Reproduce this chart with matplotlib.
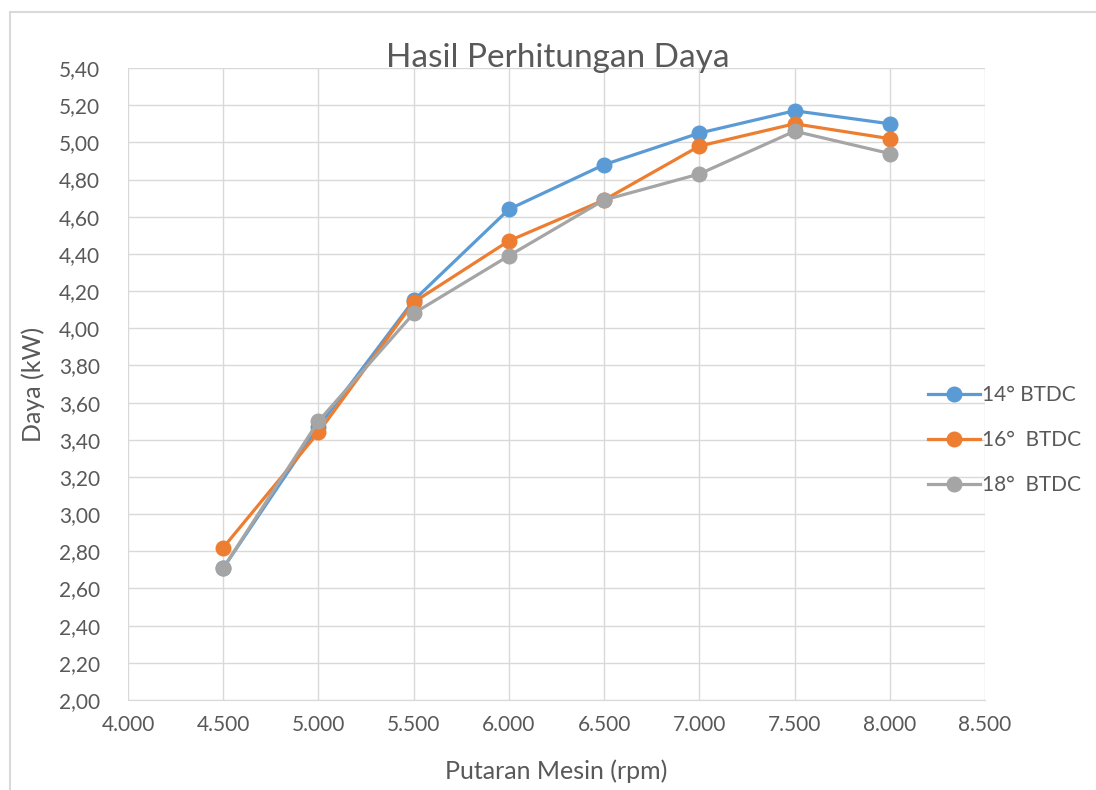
import matplotlib
matplotlib.use("Agg")
import matplotlib.pyplot as plt
from matplotlib.patches import Rectangle

# data
rpm = [4500, 5000, 5500, 6000, 6500, 7000, 7500, 8000]
daya_14 = [2.71, 3.47, 4.15, 4.64, 4.88, 5.05, 5.17, 5.10]
daya_16 = [2.82, 3.44, 4.14, 4.47, 4.69, 4.98, 5.10, 5.02]
daya_18 = [2.71, 3.50, 4.08, 4.39, 4.69, 4.83, 5.06, 4.94]
labels = ['14° BTDC', '16°  BTDC', '18°  BTDC']
colors = ['#5B9BD5', '#ED7D31', '#A5A5A5']

xticks = list(range(4000, 8501, 500))
yticks = [2.0 + 0.2 * i for i in range(18)]

plt.rcParams['font.family'] = ['Lato', 'DejaVu Sans']
txt = '#595959'

fig = plt.figure(figsize=(10.96, 7.90), dpi=100)
ax = fig.add_axes([0.1168, 0.1139, 0.7819, 0.8])

for ys, lab, c in zip([daya_14, daya_16, daya_18], labels, colors):
    ax.plot(rpm, ys, color=c, lw=2.3, marker='o', ms=10.5, label=lab)

ax.set_xlim(4000, 8500)
ax.set_ylim(2.0, 5.4)
ax.set_xticks(xticks)
ax.set_xticklabels([f'{v:,}'.replace(',', '.') for v in xticks])
ax.set_yticks(yticks)
ax.set_yticklabels([f'{v:.2f}'.replace('.', ',') for v in yticks])
ax.grid(True, color='#d9d9d9', lw=1)
ax.set_axisbelow(True)
for s in ax.spines.values():
    s.set_visible(False)
ax.spines['bottom'].set_visible(True)
ax.spines['bottom'].set_color('#d9d9d9')
ax.tick_params(length=0, labelsize=15, colors=txt)
ax.tick_params(axis='y', pad=20)
ax.tick_params(axis='x', pad=11)

fig.text(0.5092, 0.9266, 'Hasil Perhitungan Daya', fontsize=24, color=txt,
         ha='center', va='center')
ax.set_xlabel('Putaran Mesin (rpm)', fontsize=18, color=txt)
ax.xaxis.set_label_coords(0.5, -0.112)
ax.xaxis.label.set_va('center')
ax.set_ylabel('Daya (kW)', fontsize=18, color=txt)
ax.yaxis.set_label_coords(-0.111, 0.5)
ax.yaxis.label.set_va('center')

leg = ax.legend(loc='center left', bbox_to_anchor=(0.933, 0.411), frameon=False,
                fontsize=15, handlelength=2.5, handletextpad=0.1,
                labelspacing=1.2, borderaxespad=0, borderpad=0)
for t in leg.get_texts():
    t.set_color(txt)

fig.patches.append(Rectangle((0.009, -0.1), 1.2, 1.085, transform=fig.transFigure,
                             fill=False, edgecolor='#d9d9d9', lw=1.5))

fig.savefig('out.png', dpi=100)
